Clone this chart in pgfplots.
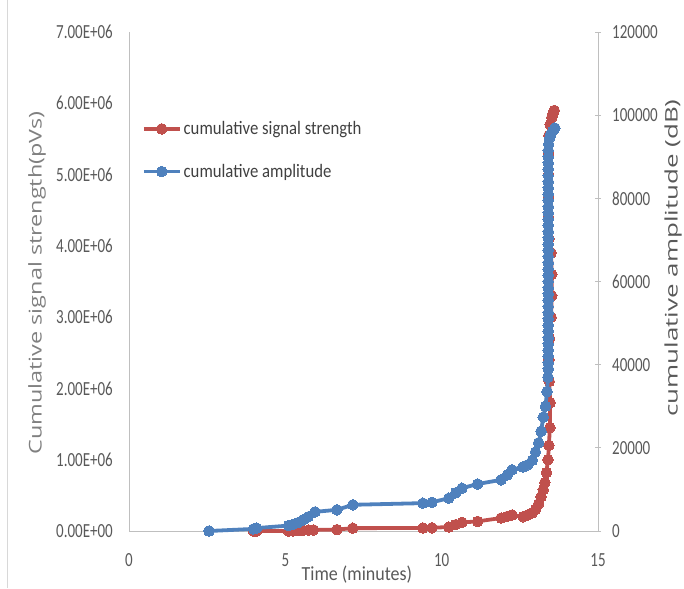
\documentclass[border=0pt]{standalone}
\usepackage{fontspec}
\setmainfont{Carlito}
\newfontfamily\tickfont[FakeStretch=0.75]{Carlito}
\newfontfamily\xlabfont[FakeStretch=0.9]{Carlito}
\newfontfamily\legfont[FakeStretch=0.88]{Carlito}
\newfontfamily\ylabfont[FakeStretch=1.33]{Open Sans}
\newfontfamily\rlabfont[FakeStretch=1.5]{Open Sans}
\usepackage{pgfplots}
\pgfplotsset{compat=1.18}
\definecolor{sred}{HTML}{C0504D}
\definecolor{sblue}{HTML}{4F81BD}
\definecolor{tgray}{HTML}{595959}
\definecolor{lgray}{HTML}{808080}
\definecolor{agray}{HTML}{BFBFBF}
\pgfplotsset{
  redstyle/.style={sred, line width=3.8pt, mark=*, mark size=5.3pt, mark options={solid, fill=sred, draw=sred, line width=0pt}},
  bluestyle/.style={sblue, line width=3.8pt, mark=*, mark size=5.3pt, mark options={solid, fill=sblue, draw=sblue, line width=0pt}},
}
\begin{document}
\begin{tikzpicture}
\path[use as bounding box] (0,0) rectangle (684pt,588pt);
\draw[agray!60, line width=1pt] (7pt,0) -- (7pt,588pt);
\begin{axis}[
  at={(129pt,57pt)}, anchor=south west,
  scale only axis, width=469pt, height=499pt,
  xmin=0, xmax=15, ymin=0, ymax=7000000,
  clip=false,
  axis y line*=left, axis x line*=bottom,
  axis line style={agray, line width=0.9pt, -},
  xtick={0,5,10,15}, xticklabels={0,5,10,15},
  ytick={0,1000000,2000000,3000000,4000000,5000000,6000000,7000000},
  yticklabels={0.00E+00,1.00E+06,2.00E+06,3.00E+06,4.00E+06,5.00E+06,6.00E+06,7.00E+06},
  scaled y ticks=false,
  major tick length=0pt,
  xticklabel style={font={\tickfont\fontsize{20}{24}\selectfont}, text=tgray, anchor=north, inner sep=0pt, yshift=-22pt},
  yticklabel style={font={\tickfont\fontsize{20}{24}\selectfont}, text=tgray, anchor=east, inner sep=0pt, xshift=-16pt},
  xlabel={Time (minutes)},
  xlabel style={font={\xlabfont\fontsize{20}{24}\selectfont}, text=tgray, at={(axis description cs:0.486,0)}, anchor=north, inner sep=0pt, yshift=-35pt},
  ylabel={Cumulative signal strength(pVs)},
  ylabel style={font={\ylabfont\fontsize{17.6}{20}\selectfont}, text=lgray, at={(axis description cs:-0.196,0.497)}, anchor=center, inner sep=0pt},
]
\addplot[redstyle] coordinates {
(3.98,0)(4.08,0)(5.1,0)(5.25,0)(5.4,5000)(5.57,8000)(5.75,12000)(5.9,15000)
(6.65,20000)(7.16,40000)(9.40,42000)(9.69,45000)(10.23,56000)(10.45,90000)
(10.65,120000)(11.15,135000)(11.9,182000)(12.1,205000)(12.25,224000)(12.6,200000)
(12.75,225000)(12.9,255000)(13.0,300000)(13.1,380000)(13.18,480000)(13.25,580000)
(13.3,680000)(13.35,820000)(13.4,1000000)(13.43,1200000)(13.46,1450000)(13.47,1800000)
(13.44,2100000)(13.43,2400000)(13.45,2700000)(13.5,3000000)(13.52,3300000)(13.52,3600000)
(13.5,3900000)(13.43,4100000)(13.42,4400000)(13.42,4700000)(13.42,5000000)(13.42,5300000)
(13.43,5550000)(13.47,5700000)(13.52,5800000)(13.56,5860000)(13.6,5900000)
};
\end{axis}
\begin{axis}[
  at={(129pt,57pt)}, anchor=south west,
  scale only axis, width=469pt, height=499pt,
  xmin=0, xmax=15, ymin=0, ymax=120000,
  clip=false,
  axis x line=none, axis y line*=right,
  axis line style={agray, line width=0.9pt, -},
  ytick={0,20000,40000,60000,80000,100000,120000},
  yticklabels={0,20000,40000,60000,80000,100000,120000},
  scaled y ticks=false,
  major tick length=6pt, tick align=center,
  tick style={agray, line width=0.9pt},
  yticklabel style={font={\tickfont\fontsize{20}{24}\selectfont}, text=tgray, anchor=west, inner sep=0pt, xshift=11pt},
  ylabel={cumulative amplitude (dB)},
  ylabel style={font={\rlabfont\fontsize{17.3}{20}\selectfont}, text=tgray, at={(axis description cs:1.16,0.547)}, anchor=center, inner sep=0pt},
  legend style={draw=none, fill=none, at={(axis description cs:0.027,0.825)}, anchor=north west,
    font={\legfont\fontsize{19}{22}\selectfont}, text=black!75, row sep=24pt, inner sep=0pt,
    nodes={inner sep=2pt}},
  legend cell align=left,
  legend image code/.code={\draw[mark repeat=2,mark phase=2,#1] plot coordinates {(0pt,0pt) (18pt,0pt) (36pt,0pt)};},
]
\addlegendimage{redstyle}
\addlegendentry{cumulative signal strength}
\addplot[bluestyle] coordinates {
(2.56,0)(3.98,500)(4.08,700)(5.1,1300)(5.25,1600)(5.4,2000)(5.57,2700)(5.73,3400)
(5.95,4600)(6.65,5100)(7.16,6300)(9.40,6700)(9.69,6900)(10.23,7900)(10.45,9200)
(10.65,10300)(11.15,11300)(11.9,12300)(12.1,13500)(12.25,14700)(12.6,15400)(12.75,15900)
(12.9,17000)(13.0,19000)(13.1,21200)(13.18,24000)(13.25,27400)(13.32,30000)(13.37,33500)
(13.4,37000)(13.41,39000)(13.41,40500)(13.41,42000)(13.41,43500)(13.41,45000)(13.41,46500)
(13.41,48000)(13.41,49500)(13.41,51000)(13.41,52500)(13.41,54000)(13.41,55500)(13.41,57000)
(13.41,58500)(13.41,60000)(13.41,61500)(13.41,63000)(13.41,64500)(13.41,66000)(13.41,67500)
(13.41,69000)(13.41,70500)(13.41,72000)(13.41,73500)(13.41,75000)(13.41,76500)(13.41,78000)
(13.41,79500)(13.41,81000)(13.41,82500)(13.41,84000)(13.41,85500)(13.41,87000)(13.41,88500)
(13.41,90000)(13.41,91500)(13.42,93000)(13.45,94500)(13.5,95500)(13.55,96200)(13.62,96900)
};
\addlegendentry{cumulative amplitude}
\end{axis}
\end{tikzpicture}
\end{document}
